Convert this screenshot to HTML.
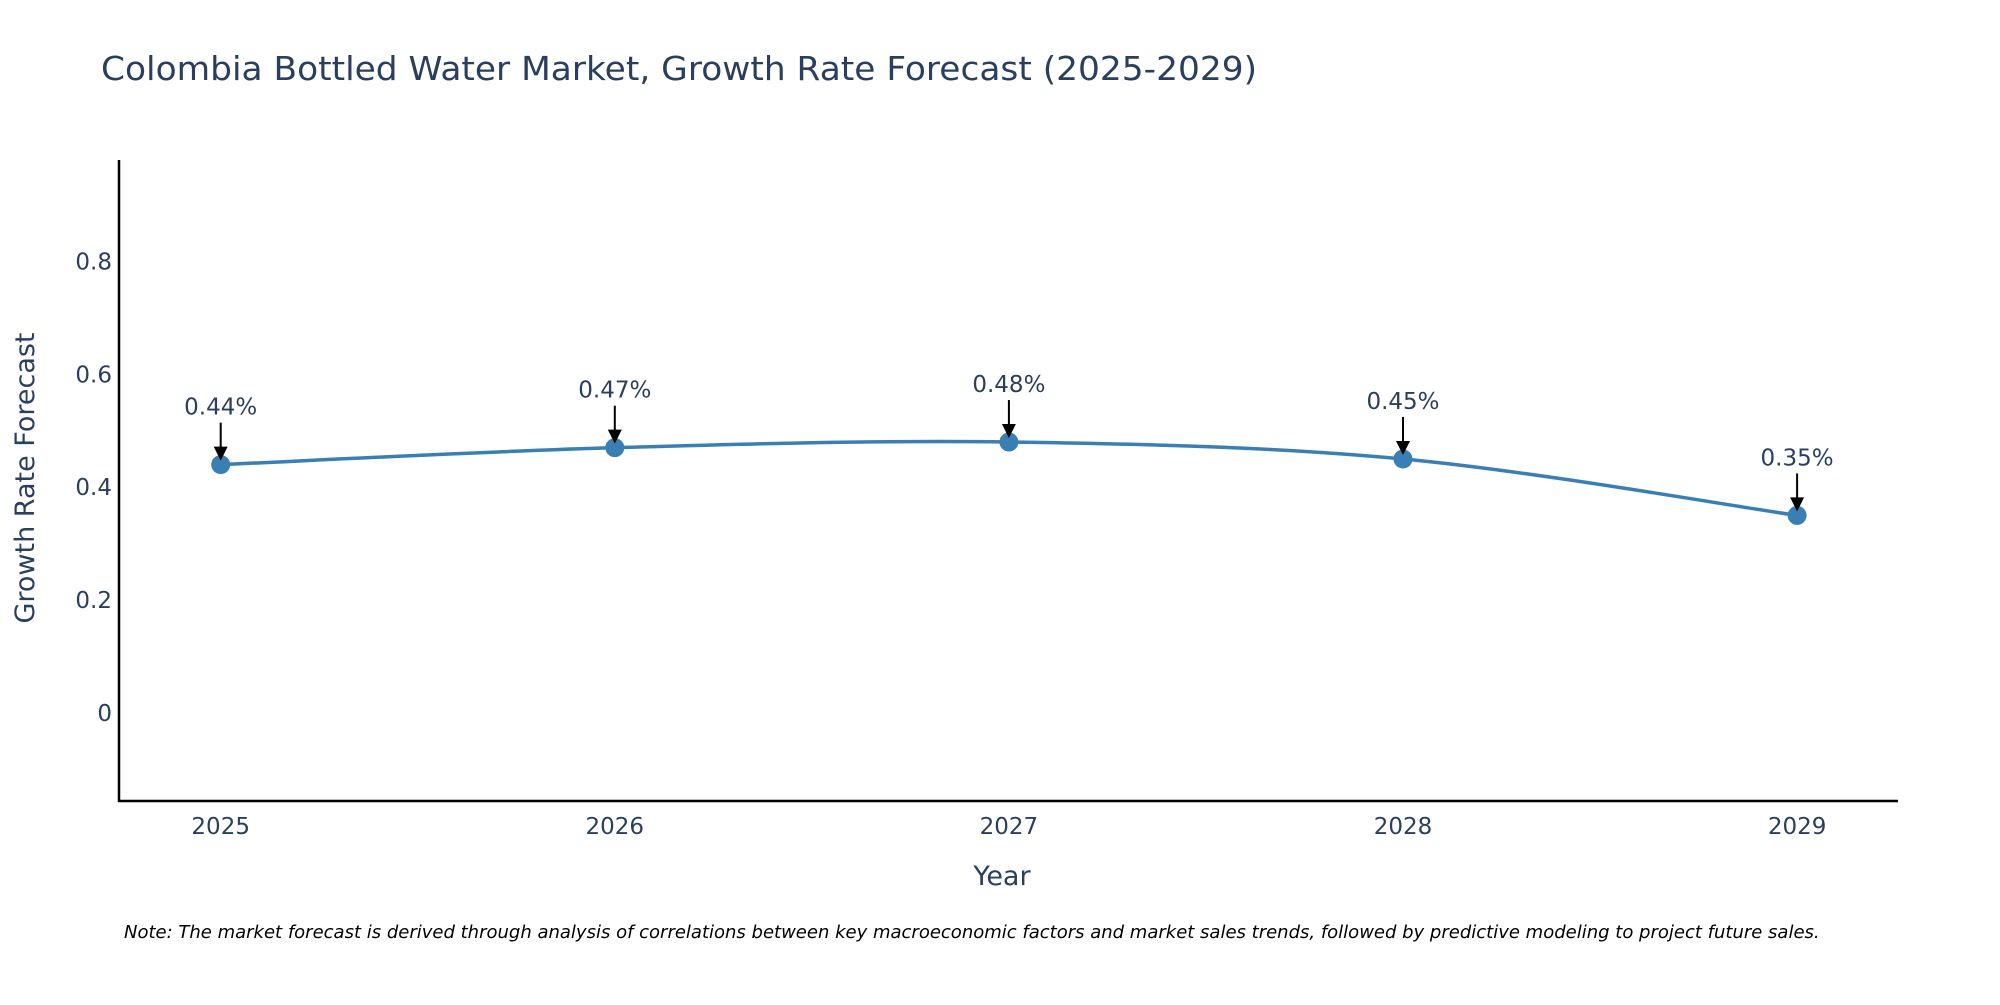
<!DOCTYPE html>
<html><head><meta charset="utf-8"><style>
body{margin:0;background:#fff;}
svg text{font-family:"DejaVu Sans","Liberation Sans",sans-serif;fill:#2a3f5f;}
</style></head><body>
<svg width="2000" height="1000" viewBox="0 0 2000 1000">
<text x="101" y="80" font-size="33" textLength="1156" lengthAdjust="spacingAndGlyphs">Colombia Bottled Water Market, Growth Rate Forecast (2025-2029)</text>
<g id="yt"></g>
<g id="xt"></g>
<line x1="119" y1="160" x2="119" y2="802" stroke="#000" stroke-width="2.5"/>
<line x1="118" y1="801" x2="1898" y2="801" stroke="#000" stroke-width="2.5"/>
<text x="1002" y="885" font-size="27" text-anchor="middle">Year</text>
<text transform="translate(34,478) rotate(-90)" font-size="27" text-anchor="middle">Growth Rate Forecast</text>
<path id="line" fill="none" stroke="#3a7fb3" stroke-width="3.5"/>
<g id="pts"></g>
<text x="124" y="938" font-size="18" font-style="italic" style="fill:#000">Note: The market forecast is derived through analysis of correlations between key macroeconomic factors and market sales trends, followed by predictive modeling to project future sales.</text>
</svg>
<script>
const years=[2025,2026,2027,2028,2029];
const values=[0.44,0.47,0.48,0.45,0.35];
const labels=["0.44%","0.47%","0.48%","0.45%","0.35%"];
const yTicks=[0,0.2,0.4,0.6,0.8];
const NS="http://www.w3.org/2000/svg";
const X=v=>220.7+(v-2025)*394.1;
const Y=v=>713-v/0.2*112.9;
function mk(t,a,p){const e=document.createElementNS(NS,t);for(const k in a)e.setAttribute(k,a[k]);p.appendChild(e);return e;}
const yt=document.getElementById('yt');
yTicks.forEach(t=>{const e=mk('text',{x:112,y:Y(t)+8,'font-size':23,'text-anchor':'end'},yt);e.textContent=t;

});
const xt=document.getElementById('xt');
years.forEach(t=>{const e=mk('text',{x:X(t),y:834,'font-size':23,'text-anchor':'middle'},xt);e.textContent=t;

});
const P=years.map((y,i)=>[X(y),Y(values[i])]);
let d=`M${P[0][0]},${P[0][1]}`;
for(let i=0;i<P.length-1;i++){const p0=P[Math.max(0,i-1)],p1=P[i],p2=P[i+1],p3=P[Math.min(P.length-1,i+2)];
d+=` C${p1[0]+(p2[0]-p0[0])/6},${p1[1]+(p2[1]-p0[1])/6} ${p2[0]-(p3[0]-p1[0])/6},${p2[1]-(p3[1]-p1[1])/6} ${p2[0]},${p2[1]}`;}
document.getElementById('line').setAttribute('d',d);
const g=document.getElementById('pts');
P.forEach((p,i)=>{
const c=mk('circle',{cx:p[0],cy:p[1],r:9.5,fill:'#3a7fb3'},g);


const l=mk('line',{x1:p[0],y1:p[1]-42,x2:p[0],y2:p[1]-14,stroke:'#000','stroke-width':2},g);


const h=mk('polygon',{points:`${p[0]-7},${p[1]-18} ${p[0]+7},${p[1]-18} ${p[0]},${p[1]-4}`,fill:'#000'},g);


const t=mk('text',{x:p[0],y:p[1]-50,'font-size':23,'text-anchor':'middle'},g);t.textContent=labels[i];


});
</script>
</body></html>
